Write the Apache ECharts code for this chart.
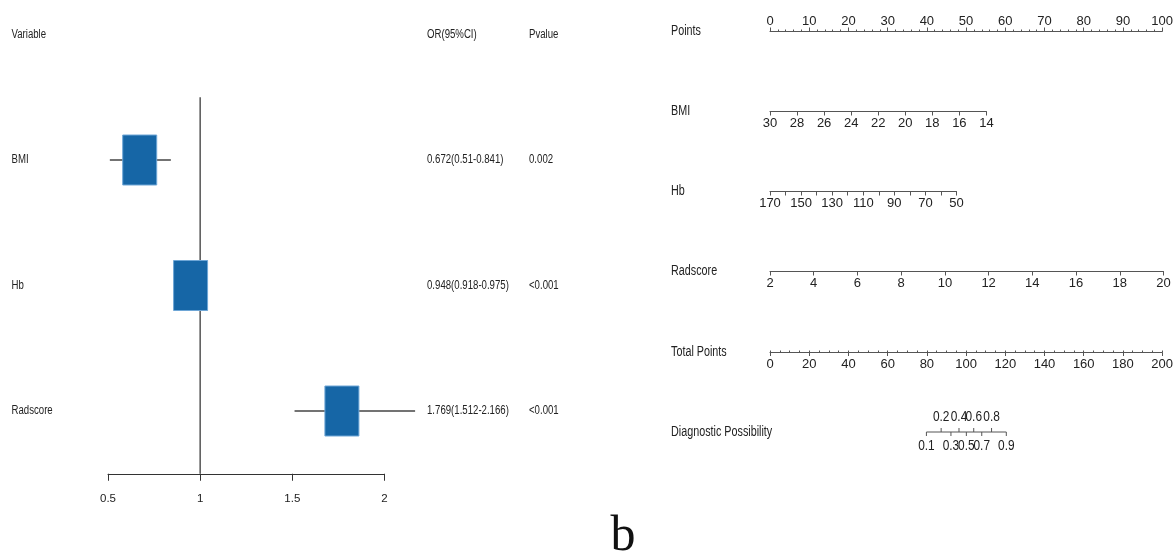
<!DOCTYPE html>
<html>
<head>
<meta charset="utf-8">
<script src="https://cdn.jsdelivr.net/npm/echarts@6/dist/echarts.min.js"></script>
<style>
  html, body { margin: 0; padding: 0; background: #fff; }
  #chart { width: 1176px; height: 555px; }
</style>
</head>
<body>
<div id="chart"></div>
<script>
// ---- Forest plot (odds ratios) ----
const forestVars = ['BMI', 'Hb', 'Radscore'];
const orValues = [0.672, 0.948, 1.769];
const ciLower = [0.51, 0.918, 1.512];
const ciUpper = [0.841, 0.975, 2.166];
const pValues = ['0.002', '<0.001', '<0.001'];
const forestHeaders = ['Variable', 'OR(95%CI)', 'Pvalue'];
const orAxisTicks = [0.5, 1, 1.5, 2];
const orReference = 1;

// ---- Nomogram scales ----
const nomoRows = ['Points', 'BMI', 'Hb', 'Radscore', 'Total Points', 'Diagnostic Possibility'];
const pointsTicks = [0, 10, 20, 30, 40, 50, 60, 70, 80, 90, 100];
const bmiTicks = [30, 28, 26, 24, 22, 20, 18, 16, 14];
const hbTicks = [170, 160, 150, 140, 130, 120, 110, 100, 90, 80, 70, 60, 50];
const hbLabelled = [170, 150, 130, 110, 90, 70, 50];
const radscoreTicks = [2, 4, 6, 8, 10, 12, 14, 16, 18, 20];
const totalPointsTicks = [0, 20, 40, 60, 80, 100, 120, 140, 160, 180, 200];
// points reached at the far end of each predictor scale
const bmiMaxPoints = 55;
const hbMaxPoints = 47.4;
const radscoreMaxPoints = 100;
// diagnostic possibility scale on the total-points axis
const probAbove = [0.2, 0.4, 0.6, 0.8];
const probBelow = [0.1, 0.3, 0.5, 0.7, 0.9];
const probMidTotalPoints = 99.8;
const totalPointsPerLogit = 9.24;

// ---- layout ----
const SANS = "'Liberation Sans', Arial, sans-serif";
const TEXT = '#222';
const FOREST = { left: 108, top: 97.25, width: 276.5, height: 376.5 };
const FOREST_FONT = 12.5;
const SQUEEZE = 0.77;          // condensed look of the label text
const HEADER_Y = 34.5;
const VAR_COL_X = 11.5;
const OR_COL_X = 427;
const P_COL_X = 529;
const NOMO_LEFT = 770;
const NOMO_LABEL_X = 671;
const NOMO_WIDTH = 393.5;
const PX_PER_POINT = NOMO_WIDTH / 100;
const NOMO_LINE_Y = [31.5, 111.5, 191.5, 271.5, 352.5, 432.5];
const NOMO_FONT = 14;
const TICK_FONT = 13;
const AXIS_GRAY = '#555';

const chart = echarts.init(document.getElementById('chart'), null, { renderer: 'canvas' });

const span = arr => [Math.min(...arr), Math.max(...arr)];
const step = arr => Math.abs(arr[1] - arr[0]);

const squeezedText = (text, x, y, size, align) => ({
  type: 'text', x, y, scaleX: SQUEEZE, silent: true,
  style: { text, x: 0, y: 0, fill: TEXT, fontSize: size, fontFamily: SANS,
    align: align || 'left', verticalAlign: 'middle' }
});

const grids = [FOREST];
const xAxes = [];
const yAxes = [];
const series = [];

// forest axes
xAxes.push({
  gridIndex: 0, type: 'value',
  min: span(orAxisTicks)[0], max: span(orAxisTicks)[1], interval: step(orAxisTicks),
  axisLine: { show: true, lineStyle: { color: '#333', width: 1 } },
  axisTick: { show: true, length: 7, lineStyle: { color: '#333' } },
  axisLabel: { margin: 19, color: TEXT, fontSize: 11.5, fontFamily: SANS },
  splitLine: { show: false }
});
yAxes.push({
  gridIndex: 0, type: 'category', data: forestVars, inverse: true,
  axisLine: { show: false }, axisTick: { show: false }, splitLine: { show: false },
  axisLabel: { show: false }
});

// reference line at OR = 1
series.push({
  type: 'custom', xAxisIndex: 0, yAxisIndex: 0, z: 1, silent: true, clip: false,
  data: [[orReference, 0]],
  renderItem: (params, api) => {
    const cs = params.coordSys;
    const x = api.coord([api.value(0), 0])[0];
    return { type: 'line', shape: { x1: x, y1: cs.y, x2: x, y2: cs.y + cs.height },
      style: { stroke: '#555', lineWidth: 1.5 } };
  }
});

// whiskers + boxes
series.push({
  type: 'custom', xAxisIndex: 0, yAxisIndex: 0, z: 3, silent: true, clip: false,
  encode: { x: 0, y: 1 },
  data: forestVars.map((v, i) => [orValues[i], i, ciLower[i], ciUpper[i]]),
  renderItem: (params, api) => {
    const row = api.value(1);
    const c = api.coord([api.value(0), row]);
    const lo = api.coord([api.value(2), row]);
    const hi = api.coord([api.value(3), row]);
    const w = 34, h = 50;
    return { type: 'group', children: [
      { type: 'line', shape: { x1: lo[0], y1: c[1], x2: hi[0], y2: c[1] },
        style: { stroke: '#444', lineWidth: 1.5 } },
      { type: 'rect', shape: { x: c[0] - w / 2, y: c[1] - h / 2, width: w, height: h },
        style: { fill: '#1666a6', stroke: '#6ea6d6', lineWidth: 1 } }
    ] };
  }
});

// variable names, OR (95% CI) and p-value columns
series.push({
  type: 'custom', xAxisIndex: 0, yAxisIndex: 0, z: 4, silent: true, clip: false,
  data: forestVars.map((v, i) => [orValues[i], i]),
  renderItem: (params, api) => {
    const i = params.dataIndex;
    const y = api.coord([api.value(0), api.value(1)])[1];
    return { type: 'group', children: [
      squeezedText(forestVars[i], VAR_COL_X, y, FOREST_FONT),
      squeezedText(`${orValues[i]}(${ciLower[i]}-${ciUpper[i]})`, OR_COL_X, y, FOREST_FONT),
      squeezedText(pValues[i], P_COL_X, y, FOREST_FONT)
    ] };
  }
});

// ---- nomogram rows ----
function nomoGrid(rowIdx, widthPx, position) {
  const y = NOMO_LINE_Y[rowIdx];
  grids.push({ left: NOMO_LEFT, width: widthPx, top: position === 'top' ? y : y - 1, height: 1 });
  const gi = grids.length - 1;
  yAxes.push({
    gridIndex: gi, type: 'category', data: [nomoRows[rowIdx]],
    axisLine: { show: false }, axisTick: { show: false }, splitLine: { show: false },
    axisLabel: { show: false }
  });
  return gi;
}
function scaleAxis(gi, ticks, extra) {
  const [mn, mx] = span(ticks);
  return Object.assign({
    gridIndex: gi, type: 'value', min: mn, max: mx, interval: step(ticks),
    position: 'bottom',
    axisLine: { show: true, lineStyle: { color: AXIS_GRAY, width: 1 } },
    axisTick: { show: true, length: 4, lineStyle: { color: AXIS_GRAY } },
    axisLabel: { margin: 5, color: TEXT, fontSize: TICK_FONT, fontFamily: SANS, showMinLabel: true, showMaxLabel: true },
    splitLine: { show: false }
  }, extra);
}

// Points
let gi = nomoGrid(0, NOMO_WIDTH, 'top');
xAxes.push(scaleAxis(gi, pointsTicks, {
  position: 'top',
  axisTick: { show: true, length: 4, lineStyle: { color: AXIS_GRAY } },
  minorTick: { show: true, splitNumber: 5, length: 2, lineStyle: { color: AXIS_GRAY } },
  axisLabel: { margin: 4, color: TEXT, fontSize: TICK_FONT, fontFamily: SANS }
}));
// BMI (reversed)
gi = nomoGrid(1, bmiMaxPoints * PX_PER_POINT, 'bottom');
xAxes.push(scaleAxis(gi, bmiTicks, { inverse: true }));
// Hb (reversed, every other tick labelled)
gi = nomoGrid(2, hbMaxPoints * PX_PER_POINT, 'bottom');
xAxes.push(scaleAxis(gi, hbTicks, {
  inverse: true,
  axisLabel: { margin: 5, color: TEXT, fontSize: TICK_FONT, fontFamily: SANS,
    formatter: v => (hbLabelled.includes(v) ? String(v) : '') }
}));
// Radscore
gi = nomoGrid(3, radscoreMaxPoints * PX_PER_POINT, 'bottom');
xAxes.push(scaleAxis(gi, radscoreTicks, {}));
// Total Points: labelled ticks below, small ticks above
gi = nomoGrid(4, NOMO_WIDTH, 'bottom');
xAxes.push(scaleAxis(gi, totalPointsTicks, { axisTick: { show: true, length: 3.5, lineStyle: { color: AXIS_GRAY } } }));
xAxes.push({
  gridIndex: gi, type: 'value', min: span(totalPointsTicks)[0], max: span(totalPointsTicks)[1], interval: 5,
  position: 'bottom', axisLine: { show: false }, axisLabel: { show: false }, splitLine: { show: false },
  axisTick: { show: true, inside: true, length: 2, lineStyle: { color: AXIS_GRAY } }
});
// Diagnostic possibility on the total-points scale
gi = nomoGrid(5, NOMO_WIDTH, 'bottom');
xAxes.push({
  gridIndex: gi, type: 'value', min: span(totalPointsTicks)[0], max: span(totalPointsTicks)[1],
  show: false
});
const diagX = xAxes.length - 1;
const diagY = yAxes.length - 1;
const logit = p => Math.log(p / (1 - p));
const probToPoints = p => probMidTotalPoints + logit(p) * totalPointsPerLogit;
const probAll = probBelow.concat(probAbove).sort((a, b) => a - b);

series.push({
  type: 'custom', xAxisIndex: diagX, yAxisIndex: diagY, silent: true, clip: false,
  data: [[probToPoints(probAll[0]), 0, probToPoints(probAll[probAll.length - 1])]],
  renderItem: (params, api) => {
    const a = api.coord([api.value(0), 0]);
    const b = api.coord([api.value(2), 0]);
    return { type: 'line', shape: { x1: a[0], y1: a[1], x2: b[0], y2: b[1] },
      style: { stroke: AXIS_GRAY, lineWidth: 1 } };
  }
});
series.push({
  type: 'custom', xAxisIndex: diagX, yAxisIndex: diagY, silent: true, clip: false,
  data: probAll.map(p => [probToPoints(p), 0, p, probAbove.includes(p) ? 1 : 0]),
  renderItem: (params, api) => {
    const c = api.coord([api.value(0), 0]);
    const dir = api.value(3) === 1 ? -1 : 1;
    const label = squeezedText(String(api.value(2)), c[0], c[1] + dir * 14.5, 14, 'center');
    label.scaleX = 0.85;
    return { type: 'group', children: [
      { type: 'line', shape: { x1: c[0], y1: c[1], x2: c[0], y2: c[1] + dir * 4 },
        style: { stroke: AXIS_GRAY, lineWidth: 1 } },
      label
    ] };
  }
});

const headerGraphics = [VAR_COL_X, OR_COL_X, P_COL_X].map((x, i) =>
  squeezedText(forestHeaders[i], x, HEADER_Y, FOREST_FONT));
const rowLabelGraphics = nomoRows.map((name, i) =>
  squeezedText(name, NOMO_LABEL_X, NOMO_LINE_Y[i], NOMO_FONT));

chart.setOption({
  animation: false,
  backgroundColor: '#fff',
  grid: grids,
  xAxis: xAxes,
  yAxis: yAxes,
  series: series,
  graphic: headerGraphics.concat(rowLabelGraphics, [{
    type: 'text', x: 623, y: 537, silent: true,
    style: { text: 'b', fill: '#111', fontSize: 50, fontFamily: "'Liberation Serif', 'DejaVu Serif', serif",
      align: 'center', verticalAlign: 'middle' }
  }])
});
</script>
</body>
</html>
